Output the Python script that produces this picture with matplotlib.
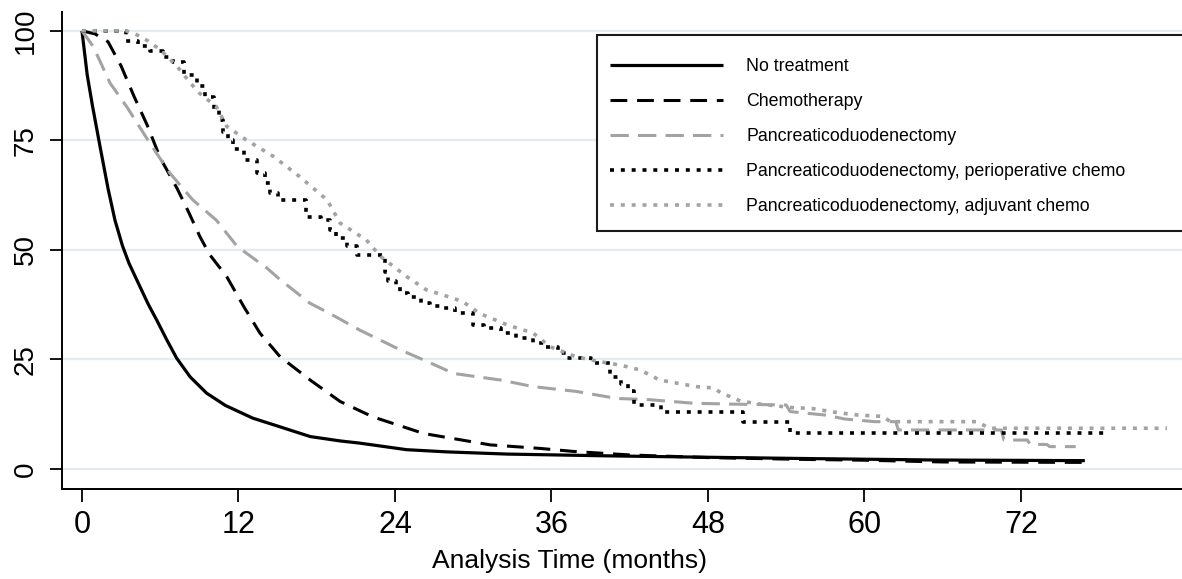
import matplotlib
matplotlib.use("Agg")
import matplotlib.pyplot as plt
from matplotlib.patches import Rectangle

plt.rcParams["font.family"] = ["Liberation Sans", "DejaVu Sans"]

# Kaplan-Meier survival (%) by treatment group, time in months
labels = [
    "No treatment",
    "Chemotherapy",
    "Pancreaticoduodenectomy",
    "Pancreaticoduodenectomy, perioperative chemo",
    "Pancreaticoduodenectomy, adjuvant chemo",
]

none_t = [0, 0.4, 0.8, 1.38, 2.0, 2.53, 3.1, 3.6, 4.45, 5.1, 5.73, 6.5, 7.26, 8.3,
          9.56, 11.0, 13.1, 15.0, 17.5, 19.8, 21.3, 24.9, 28.0, 32.6, 40.2, 47.4,
          55.0, 65.3, 76.9]
none_s = [100, 90, 83, 73.7, 64, 56.8, 51, 47, 41.6, 37.5, 34.0, 29.5, 25.3, 21.0,
          17.3, 14.5, 11.6, 9.8, 7.4, 6.4, 5.9, 4.4, 3.9, 3.4, 3.0, 2.7,
          2.4, 2.05, 1.9]

chemo_t = [0, 1.0, 2.0, 3.0, 4.0, 5.0, 6.0, 7.3, 8.2, 9.05, 9.8, 11.1, 12.4, 13.65,
           15.2, 17.5, 19.8, 22.3, 26.2, 31.3, 35.1, 37.7, 42.0, 48.0, 55.0, 60.0,
           66.0, 76.9]
chemo_s = [100, 99.3, 97.5, 92.0, 85.0, 78.5, 71.0, 64.0, 58.5, 53.0, 48.9, 43.9,
           37.1, 31.0, 25.6, 20.3, 15.4, 11.9, 8.1, 5.5, 4.7, 4.0, 3.2, 2.6, 2.2,
           2.0, 1.6, 1.5]

pd_t = [0, 0.87, 2.15, 3.43, 5.2, 6.75, 8.5, 10.3, 11.9, 14.2, 15.2, 17.5, 19.0,
        21.3, 24.4, 26.5, 28.5, 32.1, 34.6, 37.9, 41.0, 43.6, 46.9, 49.9, 54.0,
        54.3, 57.0, 58.5, 60.8, 62.4, 62.6, 70.5, 70.7, 72.5, 72.7, 74.0, 74.2, 76.2]
pd_s = [100, 96.4, 88.1, 82.7, 74.4, 67.5, 61.4, 56.8, 50.8, 45.8, 43.2, 37.8, 35.5,
        31.7, 27.2, 24.5, 21.8, 20.3, 18.8, 17.7, 16.1, 15.8, 15.0, 14.8, 14.6,
        13.1, 12.3, 11.4, 10.8, 10.8, 8.9, 8.9, 6.6, 6.6, 5.6, 5.6, 5.1, 5.1]

periop_t = [0, 3.4, 4.3, 5.2, 6.2, 7.0, 7.8, 8.8, 9.4, 10.1, 10.5, 10.8, 11.2, 11.6,
            12.4, 13.4, 14.0, 14.4, 15.0, 15.7, 17.2, 18.3, 19.0, 19.5, 20.3, 21.1,
            23.2, 23.5, 24.1, 24.4, 25.0, 26.0, 26.7, 27.5, 28.6, 30.0, 30.8, 32.1,
            33.3, 34.6, 35.4, 36.5, 37.2, 39.0, 40.5, 41.3, 41.9, 42.3, 44.4, 50.7,
            54.3, 78.6]
periop_s = [100, 97.6, 96.5, 95.3, 94.0, 93.0, 90.0, 87.5, 85.0, 82.0, 79.7, 77.0,
            75.1, 73.0, 70.5, 67.5, 65.2, 63.0, 61.4, 61.4, 57.6, 56.8, 54.5, 52.7,
            51.0, 48.9, 45.0, 42.8, 42.0, 40.1, 39.3, 37.8, 37.2, 36.7, 35.5, 32.9,
            32.1, 31.0, 29.8, 28.7, 27.9, 26.5, 25.3, 24.3, 21.1, 19.5, 17.7, 14.6,
            13.1, 10.8, 8.1, 8.1]

adj_t = [0, 3.4, 4.2, 5.0, 6.0, 7.3, 8.2, 9.0, 10.3, 11.1, 12.6, 14.7, 16.7, 18.8,
         19.8, 21.8, 22.9, 24.9, 26.4, 27.7, 29.2, 30.5, 32.6, 34.6, 35.9, 37.9,
         39.7, 41.3, 42.8, 44.3, 45.6, 47.1, 48.4, 49.0, 50.5, 52.0, 54.5, 56.0,
         57.6, 59.5, 61.4, 62.0, 68.6, 69.6, 83.2]
adj_s = [100, 100, 99.1, 97.8, 95.7, 91.9, 88.5, 85.8, 82.7, 78.2, 75.1, 71.3, 66.7,
         61.4, 56.1, 52.3, 48.5, 43.9, 40.9, 39.7, 38.2, 35.5, 32.9, 31.0, 27.9,
         25.6, 24.5, 23.7, 22.6, 20.3, 19.6, 18.8, 18.5, 17.4, 15.5, 14.8, 14.0,
         13.8, 13.0, 12.3, 12.0, 10.8, 10.8, 9.3, 9.3]

x_ticks = [0, 12, 24, 36, 48, 60, 72]
y_ticks = [0, 25, 50, 75, 100]

W, H = 1182, 579
fig = plt.figure(figsize=(W / 100, H / 100), dpi=100)
ax = fig.add_axes([62 / W, 90 / H, (W - 62) / W, 477 / H])

gray = "#a3a3a3"
ax.plot(none_t, none_s, color="black", lw=2.3, solid_capstyle="butt",
        label=labels[0], zorder=3)
ax.plot(chemo_t, chemo_s, color="black", lw=2.2, ls=(0, (5.5, 3.2)),
        dash_capstyle="butt", label=labels[1], zorder=3)
ax.plot(pd_t, pd_s, color=gray, lw=2.2, ls=(0, (6, 3)),
        dash_capstyle="butt", label=labels[2], zorder=3)
ax.step(periop_t, periop_s, where="post", color="black", lw=2.6,
        ls=(0, (1.1, 1.9)), dash_capstyle="butt", label=labels[3], zorder=3)
ax.plot(adj_t, adj_s, color=gray, lw=2.6, ls=(0, (1.1, 1.9)),
        dash_capstyle="butt", label=labels[4], zorder=3)

ax.set_xlim(-1.53, 84.35)
ax.set_ylim(-4.57, 104.3)
ax.set_xticks(x_ticks)
ax.set_yticks(y_ticks)
ax.set_yticklabels([str(v) for v in y_ticks], rotation=90, va="center")

ax.grid(axis="y", color="#e3ecef", lw=1.6, zorder=0)
ax.grid(axis="x", visible=False)
ax.set_axisbelow(True)

for side in ("top", "right"):
    ax.spines[side].set_visible(False)
for side in ("left", "bottom"):
    ax.spines[side].set_linewidth(1.4)
    ax.spines[side].set_color("black")

ax.tick_params(axis="both", direction="out", length=9, width=1.3, color="black")
ax.tick_params(axis="x", pad=6, labelsize=22)
ax.tick_params(axis="y", pad=8, labelsize=20)

ax.set_xlabel("Analysis Time (months)", fontsize=19)
ax.xaxis.label.set_va("center")
ax.xaxis.set_label_coords((569 - 62) / (W - 62), -(561 - 489) / 477)

# Legend box running off the right edge of the figure
box = Rectangle((597 / W, 1 - 231 / H), (1200 - 597) / W, (231 - 35) / H,
                transform=fig.transFigure, facecolor="white", edgecolor="#1a1a1a",
                lw=1.5, zorder=4, clip_on=False)
ax.add_artist(box)

leg = ax.legend(loc="upper left", bbox_to_anchor=(610 / W, 1 - 58 / H),
                bbox_transform=fig.transFigure, frameon=False, fontsize=12.75,
                handlelength=6.4, handletextpad=1.3, labelspacing=1.02,
                borderpad=0, borderaxespad=0)
leg.set_zorder(5)

fig.savefig("out.png", dpi=100)
